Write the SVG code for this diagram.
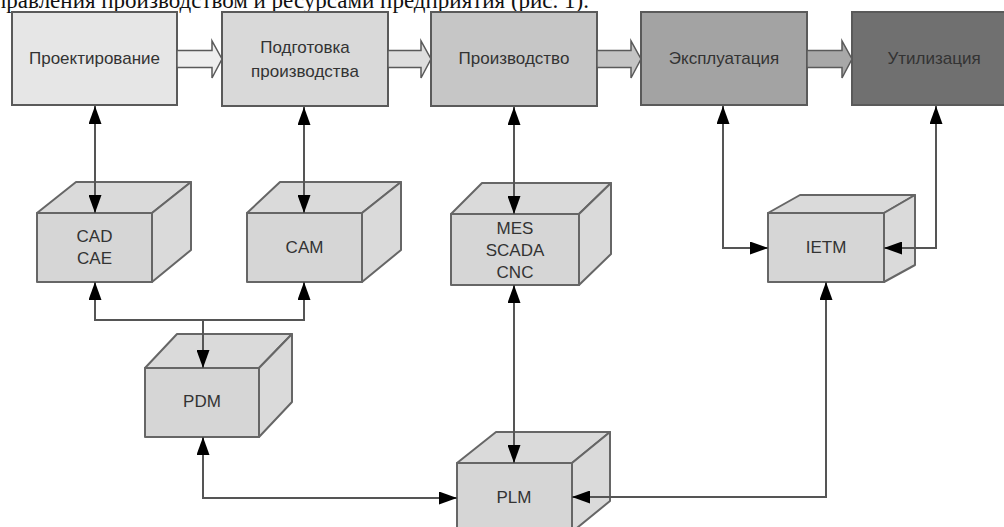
<svg xmlns="http://www.w3.org/2000/svg" width="1004" height="527" viewBox="0 0 1004 527">
  <style>
    .stage { stroke: #5a5a5a; stroke-width: 2; }
    .flow { stroke: #5a5a5a; stroke-width: 1.5; }
    .lbl { font-family: "Liberation Sans", Arial, sans-serif; font-size: 17px; fill: #333; text-anchor: middle; dominant-baseline: central; }
    .face { fill: #d6d6d6; stroke: #666; stroke-width: 2; stroke-linejoin: round; }
    .side { fill: #dadada; stroke: #666; stroke-width: 2; stroke-linejoin: round; }
    .link { fill: none; stroke: #555; stroke-width: 2; marker-start: url(#tip); marker-end: url(#tip); }
    .oneway { fill: none; stroke: #555; stroke-width: 2; marker-end: url(#tip); }
    .caption { font-family: "Liberation Serif", "Times New Roman", serif; font-size: 23px; fill: #111; }
  </style>
  <defs>
    <marker id="tip" markerUnits="userSpaceOnUse" markerWidth="18" markerHeight="13" refX="18" refY="6.5" orient="auto-start-reverse">
      <path d="M0,0 L18,6.5 L0,13 Z" fill="#000"/>
    </marker>
  </defs>
  <rect width="1004" height="527" fill="#fff"/>

  <!-- running text line above the figure -->
  <text class="caption" x="589" y="8" text-anchor="end">управления производством и ресурсами предприятия (рис. 1).</text>

  <!-- lifecycle stages -->
  <g id="stage-design">
    <rect class="stage" x="12" y="12" width="165" height="93" fill="#e6e6e6"/>
    <text class="lbl" x="94.5" y="58">Проектирование</text>
  </g>
  <g id="stage-preparation">
    <rect class="stage" x="222" y="12" width="166" height="94" fill="#d9d9d9"/>
    <text class="lbl" x="305" y="47">Подготовка</text>
    <text class="lbl" x="305" y="71">производства</text>
  </g>
  <g id="stage-production">
    <rect class="stage" x="431" y="12" width="166" height="94" fill="#c6c6c6"/>
    <text class="lbl" x="514" y="58">Производство</text>
  </g>
  <g id="stage-operation">
    <rect class="stage" x="641" y="12" width="166" height="93" fill="#a3a3a3"/>
    <text class="lbl" x="724" y="58">Эксплуатация</text>
  </g>
  <g id="stage-disposal">
    <rect class="stage" x="852" y="12" width="165" height="93" fill="#707070"/>
    <text class="lbl" x="934" y="58" fill="#222">Утилизация</text>
  </g>

  <!-- stage-to-stage block arrows -->
  <g id="flow-arrows">
    <path class="flow" fill="#eeeeee" d="M177,50.5 H212 V41 L222,59 L212,78 V67.5 H177 Z"/>
    <path class="flow" fill="#dedede" d="M388,50.5 H421 V41 L431,59 L421,78 V67.5 H388 Z"/>
    <path class="flow" fill="#c4c4c4" d="M597,50.5 H631 V41 L641,59 L631,78 V67.5 H597 Z"/>
    <path class="flow" fill="#a8a8a8" d="M807,50.5 H842 V41 L852,59 L842,78 V67.5 H807 Z"/>
  </g>

  <!-- software systems -->
  <g id="sys-cad">
    <polygon class="side" points="37,213 76,182 191,182 152,213"/>
    <polygon class="side" points="152,213 191,182 191,250 152,282"/>
    <rect class="face" x="37" y="213" width="115" height="69"/>
    <text class="lbl" x="94.5" y="236">CAD</text>
    <text class="lbl" x="94.5" y="258">CAE</text>
  </g>
  <g id="sys-cam">
    <polygon class="side" points="247,213 280,182 401,182 362,213"/>
    <polygon class="side" points="362,213 401,182 401,250 362,282"/>
    <rect class="face" x="247" y="213" width="115" height="69"/>
    <text class="lbl" x="304.5" y="247">CAM</text>
  </g>
  <g id="sys-mes">
    <polygon class="side" points="451,214 482,183 611,183 579,214"/>
    <polygon class="side" points="579,214 611,183 611,254 579,285"/>
    <rect class="face" x="451" y="214" width="128" height="71"/>
    <text class="lbl" x="515" y="228">MES</text>
    <text class="lbl" x="515" y="250">SCADA</text>
    <text class="lbl" x="515" y="272">CNC</text>
  </g>
  <g id="sys-ietm">
    <polygon class="side" points="768,213 800,195 915,195 884,213"/>
    <polygon class="side" points="884,213 915,195 915,265 884,282"/>
    <rect class="face" x="768" y="213" width="116" height="69"/>
    <text class="lbl" x="826" y="247">IETM</text>
  </g>
  <g id="sys-pdm">
    <polygon class="side" points="145,368 177,334 292,334 259,368"/>
    <polygon class="side" points="259,368 292,334 292,402 259,437"/>
    <rect class="face" x="145" y="368" width="114" height="69"/>
    <text class="lbl" x="202" y="401">PDM</text>
  </g>
  <g id="sys-plm">
    <polygon class="side" points="457,463 496,432 610,432 572,463" fill="#dedede"/>
    <polygon class="side" points="572,463 610,432 610,501 572,532" fill="#e0e0e0"/>
    <rect class="face" x="457" y="463" width="115" height="69" fill="#dedede"/>
    <text class="lbl" x="514" y="497">PLM</text>
  </g>

  <!-- data links -->
  <g id="connectors">
    <path class="link" d="M95,106 V213"/>
    <path class="link" d="M304,107 V213"/>
    <path class="link" d="M514,107 V214"/>
    <path class="link" d="M723,106 V248 H768"/>
    <path class="link" d="M936,106 V248 H884"/>
    <path class="link" d="M95,282 V320 H304 V282"/>
    <path class="oneway" d="M203,320 V368"/>
    <path class="link" d="M203,437 V498 H457"/>
    <path class="link" d="M514,285 V463"/>
    <path class="link" d="M826,282 V497 H572"/>
  </g>
</svg>
